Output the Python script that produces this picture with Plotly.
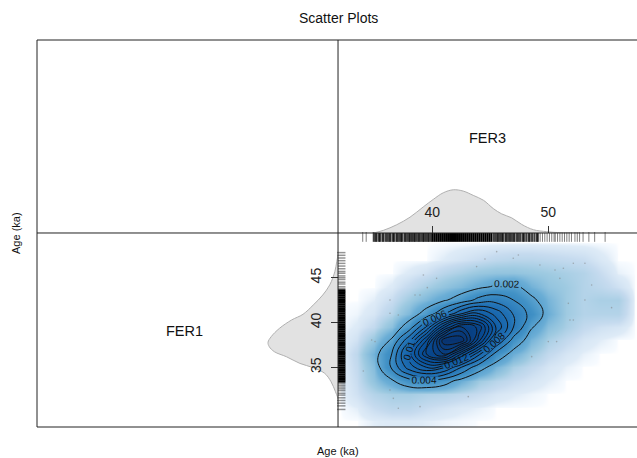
import plotly.graph_objects as go

grid_x = [32, 33.5, 35, 36.5, 38, 39.5, 41, 42.5, 44, 45.5, 47, 48.5, 50, 51.5, 53, 54.5, 56, 57.5]
grid_y = [29, 30.5, 32, 33.5, 35, 36.5, 38, 39.5, 41, 42.5, 44, 45.5, 47, 49]
# density in units of 1e-4, one row per grid_y value
density_e4 = [
    [0, 0, .4, .6, .6, .4, .2, .1, 0, 0, 0, 0, 0, 0, 0, 0, 0, 0],
    [0, .4, 2, 3.2, 3.2, 2, 1.2, .6, .3, 0, 0, 0, 0, 0, 0, 0, 0, 0],
    [0, 1.5, 4, 5.5, 5.5, 4.5, 4, 3, 2, 1, .5, .2, 0, 0, 0, 0, 0, 0],
    [0, 2, 8, 18, 32, 36, 28, 14, 6, 3.5, 2, 1, .4, 0, 0, 0, 0, 0],
    [0, 2.5, 10, 42, 90, 120, 103, 60, 27, 12, 5, 2.5, 1, .3, 0, 0, 0, 0],
    [0, 3, 13, 40, 112, 200, 241, 160, 86, 33, 14, 6, 2.5, 1, .3, 0, 0, 0],
    [0, 1.5, 7, 22, 74, 160, 295, 295, 188, 80, 32, 12, 5, 2.5, 1, .4, 0, 0],
    [0, .6, 2.5, 9, 28, 82, 175, 243, 215, 118, 60, 22, 9, 5, 2.5, 1.5, 1, 0],
    [0, .2, 1, 4, 11, 26, 56, 98, 120, 92, 58, 34, 14, 6, 4, 4, 4, 0],
    [0, 0, .4, 2, 6, 11, 18, 28, 46, 52, 40, 24, 12, 6, 4, 5, 5, 0],
    [0, 0, 0, .6, 2.5, 5, 8, 11, 16, 22, 24, 13, 8, 6, 4, 3, 1.5, 0],
    [0, 0, 0, 0, .6, 1.5, 3.5, 5, 7, 8, 8, 7, 6, 5, 4, 2, .3, 0],
    [0, 0, 0, 0, 0, 0, .5, 1.2, 2, 3, 3.5, 3.5, 3, 2.5, 2, .8, 0, 0],
    [0] * 18,
]
density_grid = [[v / 10000 for v in row] for row in density_e4]

top_x = [34.91, 35.78, 36.93, 38.08, 39.22, 40.09, 40.95, 41.81, 42.67, 43.53, 44.42, 45.26, 45.98, 46.84, 47.71, 48.71, 49.86, 51, 52.73]
top_d = [0, .008, .025, .048, .079, .102, .122, .131, .127, .114, .099, .074, .058, .046, .026, .010, .004, .001, 0]
left_y = [31.54, 32.28, 33.4, 34.33, 34.96, 35.44, 36.18, 36.74, 37.3, 37.79, 38.42, 39.35, 40.28, 40.92, 41.95, 43.07, 44.2, 45.67, 46.8, 47.53]
left_d = [0, .004, .011, .021, .039, .060, .081, .100, .108, .110, .105, .092, .073, .055, .039, .024, .013, .005, .002, 0]

speck_x = [45.55, 46.98, 47.42, 44.54, 43.82, 39.23, 40.37, 39.57, 38.51, 38.94, 36.35, 36.35, 37.07, 34.77, 35.06, 34.05, 36.35, 36.64, 37.07, 38.94, 43.1, 48.57, 50, 50.72, 51, 51.3, 52.16, 53.16, 53.74, 53.16, 51.73, 52.16, 51.87, 55.46, 49.28, 50.58]
speck_y = [47.91, 47.17, 47.54, 47.09, 46.24, 45.31, 44.93, 43.89, 43.07, 43.07, 42.52, 41.03, 40.84, 38.05, 37.87, 34.59, 32.47, 31.54, 30.43, 30.61, 31.73, 36.19, 37.87, 37.87, 44.93, 46.05, 46.61, 46.61, 44.19, 42.52, 42.14, 40.28, 40.28, 41.66, 46.42, 45.86]

rug_x_dense = [34.95, 35.1, 35.2, 35.4, 35.5, 35.7, 35.8, 36.0, 36.15, 36.3, 36.4, 36.6, 36.7, 36.9, 37.0, 37.15, 37.3, 37.4, 37.6, 37.7, 37.85, 38.0, 38.1, 38.25, 38.4, 38.5, 38.65, 38.8, 38.9, 39.05, 39.2, 39.3, 39.45, 39.6, 39.7, 39.85,
               45.3, 45.45, 45.6, 45.7, 45.85, 46.0, 46.1, 46.3, 46.4, 46.55, 46.7, 46.85, 47.0, 47.1, 47.3, 47.45, 47.6, 47.8, 47.9, 48.1, 48.3, 48.4, 48.6, 48.8, 49.0, 49.1]
rug_x_sparse = [34.0, 34.3, 49.3, 49.5, 49.7, 49.9, 50.1, 50.3, 50.5, 50.6, 50.8, 51.0, 51.2, 51.4, 51.6, 51.8, 52.0, 52.3, 52.5, 52.7, 53.0, 53.5, 54.0, 54.9]
rug_x_solid = [40.0, 40.17, 40.34, 40.51, 40.68, 40.85, 41.02, 41.19, 41.36, 41.53, 41.7, 41.87, 42.04, 42.21, 42.38, 42.55, 42.72, 42.89, 43.06, 43.23, 43.4, 43.57, 43.74, 43.91, 44.08, 44.25, 44.42, 44.59, 44.76, 44.93, 45.1]
rug_y_sparse = [30.3, 30.7, 31.0, 31.3, 31.6, 31.9, 32.1, 32.4, 32.6, 32.8, 33.0, 33.2, 43.8, 44.0, 44.3, 44.5, 44.8, 45.0, 45.2, 45.5, 45.7, 46.0, 46.3, 46.6, 46.9, 47.2, 47.5, 47.8]
rug_y_solid = [33.4, 33.6, 33.8, 34.0, 34.2, 34.4, 34.6, 34.8, 35.0, 35.2, 35.4, 35.6, 35.8, 36.0, 36.2, 36.4, 36.6, 36.8, 37.0, 37.2, 37.4, 37.6, 37.8, 38.0, 38.2, 38.4, 38.6, 38.8, 39.0, 39.2, 39.4, 39.6, 39.8, 40.0, 40.2, 40.4, 40.6, 40.8, 41.0, 41.2, 41.4, 41.6, 41.8, 42.0, 42.2, 42.4, 42.6, 42.8, 43.0, 43.2, 43.4, 43.6]

x_ticks = [40, 50]
y_ticks = [35, 40, 45]
labelled_levels = (0.002, 0.012)
plain_levels = (0.014, 0.028)

FONT = "Liberation Sans"
X_RANGE = [31.87, 57.65]
Y_RANGE = [28.34, 49.99]
blues = [[0, "#ffffff"], [.0001, "#f7fbff"], [.0015, "#deebf7"], [.007, "#c6dbef"], [.02, "#9ecae1"],
         [.045, "#6baed6"], [.10, "#4292c6"], [.22, "#2171b5"], [.5, "#08519c"], [1, "#08306b"]]

fig = go.Figure()
fig.add_trace(go.Heatmap(x=grid_x, y=grid_y, z=density_grid, colorscale=blues, zmin=0, zmax=0.031,
                         zsmooth="best", showscale=False, hoverinfo="skip"))
fig.add_trace(go.Scatter(x=speck_x, y=speck_y, mode="markers", hoverinfo="skip",
                         marker=dict(size=1.6, color="rgba(130,130,130,0.55)")))
fig.add_trace(go.Contour(x=grid_x, y=grid_y, z=density_grid, showscale=False, hoverinfo="skip",
                         autocontour=False,
                         contours=dict(coloring="none", start=labelled_levels[0], end=labelled_levels[1], size=0.002,
                                       showlabels=True, labelfont=dict(size=10, color="#111", family=FONT)),
                         line=dict(color="#111", width=1, smoothing=1.3)))
fig.add_trace(go.Contour(x=grid_x, y=grid_y, z=density_grid, showscale=False, hoverinfo="skip",
                         autocontour=False,
                         contours=dict(coloring="none", start=plain_levels[0], end=plain_levels[1], size=0.002, showlabels=False),
                         line=dict(color="#111", width=1, smoothing=1.3)))
# rugs
for vals, w, c in ((rug_x_sparse, 1, "rgba(0,0,0,.5)"), (rug_x_dense, 2, "rgba(0,0,0,.75)"), (rug_x_solid, 2, "#000")):
    fig.add_trace(go.Scatter(x=vals, y=[49.55] * len(vals), mode="markers", cliponaxis=False, hoverinfo="skip",
                             marker=dict(symbol="line-ns", size=7, line=dict(color=c, width=w))))
for vals, w, c in ((rug_y_sparse, 1.5, "rgba(0,0,0,.42)"), (rug_y_solid, 2, "#000")):
    fig.add_trace(go.Scatter(x=[32.15] * len(vals), y=vals, mode="markers", cliponaxis=False, hoverinfo="skip",
                             marker=dict(symbol="line-ew", size=6, line=dict(color=c, width=w))))
# marginal densities
fig.add_trace(go.Scatter(x=top_x, y=top_d, xaxis="x2", yaxis="y2", mode="lines", fill="tozeroy", fillcolor="#e2e2e2",
                         line=dict(color="#b0b0b0", width=1, shape="spline"), hoverinfo="skip"))
fig.add_trace(go.Scatter(x=left_d, y=left_y, xaxis="x3", yaxis="y3", mode="lines", fill="tozerox", fillcolor="#e2e2e2",
                         line=dict(color="#b0b0b0", width=1, shape="spline"), hoverinfo="skip"))

frame = dict(type="rect", xref="paper", yref="paper", x0=0, x1=1.01, y0=0, y1=1, line=dict(color="#222", width=1))
vline = dict(type="line", xref="paper", yref="paper", x0=0.5017, x1=0.5017, y0=0, y1=1, line=dict(color="#222", width=1))
hline = dict(type="line", xref="paper", yref="paper", x0=0, x1=1, y0=0.5013, y1=0.5013, line=dict(color="#222", width=1))

tick_common = dict(ticks="inside", ticklen=7, tickcolor="#333", tickfont=dict(size=14, color="#222"),
                   showgrid=False, zeroline=False, showline=False)

fig.update_layout(
    width=637, height=458, autosize=False, showlegend=False,
    paper_bgcolor="white", plot_bgcolor="rgba(0,0,0,0)",
    margin=dict(l=37, r=0, t=40, b=31),
    font=dict(family=FONT, color="#222"),
    xaxis=dict(domain=[0.5017, 1], range=X_RANGE, visible=False, anchor="y"),
    yaxis=dict(domain=[0, 0.5013], range=Y_RANGE, visible=False, anchor="x"),
    xaxis2=dict(domain=[0.5017, 1], range=X_RANGE, anchor="y2", side="bottom", tickvals=x_ticks,
                ticklabelposition="inside", ticklabelstandoff=6, **tick_common),
    yaxis2=dict(domain=[0.5013, 1], range=[0, 0.585], visible=False, anchor="x2"),
    xaxis3=dict(domain=[0, 0.5017], range=[0.473, 0], visible=False, anchor="y3"),
    yaxis3=dict(domain=[0, 0.5013], range=Y_RANGE, anchor="x3", side="right", tickvals=y_ticks, tickangle=-90,
                ticklabelposition="inside", ticklabelstandoff=7, **tick_common),
    shapes=[frame, vline, hline],
    annotations=[
        dict(text="Scatter Plots", xref="paper", yref="paper", x=0.5017, y=1, yshift=22, yanchor="middle", xanchor="center", showarrow=False, font=dict(size=14, color="#111")),
        dict(text="Age (ka)", xref="paper", yref="paper", x=0.5017, y=0, yshift=-24, yanchor="middle", xanchor="center", showarrow=False, font=dict(size=11, color="#111")),
        dict(text="Age (ka)", xref="paper", yref="paper", x=0, y=0.5013, xshift=-21, xanchor="center", yanchor="middle", textangle=-90, showarrow=False, font=dict(size=11, color="#111")),
        dict(text="FER3", xref="x2", yref="y2", x=44.8, y=0.288, showarrow=False, font=dict(size=14.5, color="#111")),
        dict(text="FER1", xref="x3", yref="y3", x=0.242, y=39, showarrow=False, font=dict(size=14.5, color="#111")),
    ],
)
fig.write_html("out.html", config=dict(displayModeBar=False), post_script="document.body.style.margin='0';")
